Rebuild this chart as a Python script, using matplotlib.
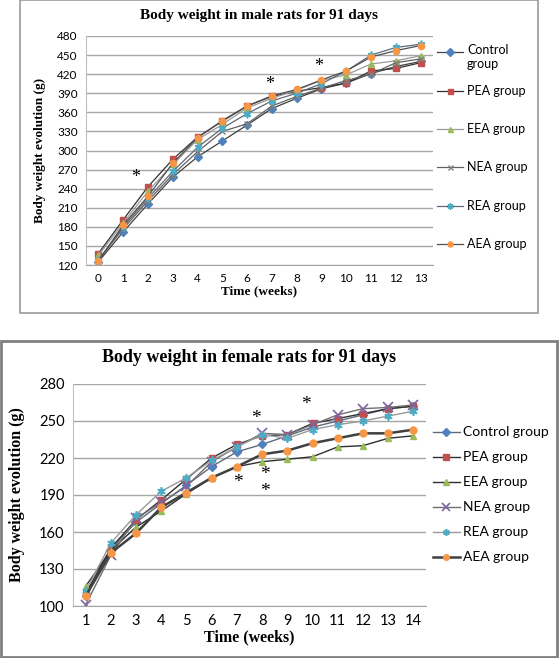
import numpy as np
import matplotlib
matplotlib.use("Agg")
from matplotlib import pyplot as plt
from matplotlib.patches import Rectangle
from matplotlib.lines import Line2D

# Male rats (weeks 0..13)
male_weeks = list(range(0, 14))
male_control = [125, 172, 216, 258, 290, 315, 340, 366, 382, 397, 406, 421, 432, 440]
male_pea = [138, 191, 243, 286, 321, 346, 370, 385, 393, 399, 406, 425, 429, 438]
male_eea = [135, 186, 236, 278, 317, 341, 367, 382, 395, 410, 419, 436, 441, 449]
male_nea = [128, 177, 221, 262, 298, 330, 342, 370, 385, 398, 410, 420, 438, 444]
male_rea = [128, 180, 225, 267, 305, 335, 358, 378, 390, 405, 425, 450, 462, 467]
male_aea = [126, 183, 228, 280, 320, 347, 370, 386, 396, 411, 425, 447, 457, 465]
male_stars_x = [1.5, 6.9, 8.9]
male_stars_y = [257, 404, 432]

# Female rats (weeks 1..14)
female_weeks = list(range(1, 15))
female_control = [108, 146, 168, 183, 198, 213, 225, 231, 238, 245, 250, 255, 260, 262]
female_pea = [110, 147, 170, 186, 203, 220, 231, 238, 239, 248, 252, 256, 260, 262]
female_eea = [116, 145, 164, 177, 191, 204, 213, 217, 219, 221, 229, 230, 236, 238]
female_nea = [101, 141, 171, 184, 197, 217, 229, 240, 239, 247, 255, 260, 261, 263]
female_rea = [112, 151, 174, 193, 204, 218, 229, 239, 236, 243, 247, 250, 254, 258]
female_aea = [108, 143, 159, 180, 192, 204, 213, 223, 226, 232, 236, 240, 240, 243]
female_stars_x = [7.75, 9.72, 7.05, 8.1, 8.1]
female_stars_y = [252, 263, 200, 207, 193]

labels = ["Control group", "PEA group", "EEA group", "NEA group", "REA group", "AEA group"]

blue = "#4F81BD"
red = "#C0504D"
green = "#9BBB59"
purple = "#8064A2"
cyan = "#4BACC6"
orange = "#F79646"
star = (6, 2, 0)

serif = "Liberation Serif"
sans = "Lato"

# line / marker styles per group
male_styles = [
    dict(color="#404040", lw=0.9, marker="D", ms=4.5, mfc=blue, mec=blue),
    dict(color="#303030", lw=0.9, marker="s", ms=4.5, mfc=red, mec=red),
    dict(color="#9a9a9a", lw=0.9, marker="^", ms=4.5, mfc=green, mec=green),
    dict(color="#606060", lw=0.9, marker="x", ms=4.5, mec="#7f7f7f"),
    dict(color="#606878", lw=0.9, marker=star, ms=5.5, mec=cyan, mew=1.2),
    dict(color="#505050", lw=0.9, marker="o", ms=4.5, mfc=orange, mec=orange),
]
female_styles = [
    dict(color="#5f6b7a", lw=1, marker="D", ms=4.5, mfc=blue, mec=blue),
    dict(color="#303030", lw=1, marker="s", ms=5, mfc=red, mec=red),
    dict(color="#303030", lw=1, marker="^", ms=5, mfc=green, mec=green),
    dict(color="#6f6f6f", lw=1, marker="x", ms=7, mec=purple, mew=1.2),
    dict(color="#9a9a9a", lw=1, marker=star, ms=6, mec=cyan, mew=1.2),
    dict(color="#404040", lw=1.8, marker="o", ms=5, mfc=orange, mec=orange),
]

fig = plt.figure(figsize=(5.59, 6.58), dpi=100)

# panel frames
fig.patches.append(Rectangle((20 / 559, 1 - 313 / 658), 518 / 559, 313 / 658,
                             transform=fig.transFigure, fill=False,
                             edgecolor="#9a9a9a", linewidth=1.2))
fig.patches.append(Rectangle((1 / 559, 1 / 658), 556 / 559, 316 / 658,
                             transform=fig.transFigure, fill=False,
                             edgecolor="#808080", linewidth=2))


def style_axes(ax, ymin, ymax, xmin, xmax, ticksize):
    ax.set_ylim(ymin, ymax)
    ax.set_xlim(xmin, xmax)
    ax.set_yticks(np.arange(ymin, ymax + 1, 30))
    ax.yaxis.grid(True, color="#a6a6a6", linewidth=1)
    ax.set_axisbelow(True)
    for s in ["top", "right"]:
        ax.spines[s].set_visible(False)
    ax.spines["left"].set_color("#bfbfbf")
    ax.spines["bottom"].set_color("#a6a6a6")
    ax.tick_params(length=0, labelsize=ticksize, pad=6)


def side_legend(ax, styles, texts, x0, x1, xt, y0, step, size):
    # Excel-like legend, drawn in axes fraction
    for i, (st, txt) in enumerate(zip(styles, texts)):
        y = y0 - i * step
        ax.add_line(Line2D([x0, x1], [y, y], transform=ax.transAxes, clip_on=False,
                           color=st["color"], lw=st["lw"]))
        mk = {k: v for k, v in st.items() if k not in ("color", "lw")}
        mk["ms"] = mk["ms"] * 0.8
        ax.add_line(Line2D([(x0 + x1) / 2], [y], transform=ax.transAxes, clip_on=False,
                           ls="none", color=st["color"], **mk))
        if "\n" in txt:
            ax.text(xt, y + 0.034, txt, transform=ax.transAxes, va="top", ha="left",
                    family=sans, fontsize=size, linespacing=1.15)
        else:
            ax.text(xt, y, txt, transform=ax.transAxes, va="center", ha="left",
                    family=sans, fontsize=size)


# ---- male chart ----
ax1 = fig.add_axes([86 / 559, 1 - 265 / 658, 347 / 559, 229 / 658])
for vals, st in zip([male_control, male_pea, male_eea, male_nea, male_rea, male_aea], male_styles):
    ax1.plot(male_weeks, vals, **st)
for x, y in zip(male_stars_x, male_stars_y):
    ax1.text(x, y, "*", fontsize=13, family=serif, ha="center", va="center")
style_axes(ax1, 120, 480, -0.5, 13.5, 8.5)
ax1.set_xticks(male_weeks)
for lab in ax1.get_xticklabels() + ax1.get_yticklabels():
    lab.set_fontfamily(sans)
ax1.set_title("Body weight in male rats for 91 days", family=serif, fontweight="bold",
              fontsize=11, pad=12)
ax1.set_xlabel("Time (weeks)", family=serif, fontweight="bold", fontsize=9.5, labelpad=1)
ax1.set_ylabel("Body weight evolution (g)", family=serif, fontweight="bold", fontsize=9.5, labelpad=8)
side_legend(ax1, male_styles, ["Control\ngroup"] + labels[1:],
            1.0115, 1.0865, 1.098, 0.930, 0.168, 9)

# ---- female chart ----
ax2 = fig.add_axes([73 / 559, 1 - 606 / 658, 353 / 559, 222 / 658])
for vals, st in zip([female_control, female_pea, female_eea, female_nea, female_rea, female_aea],
                    female_styles):
    ax2.plot(female_weeks, vals, **st)
for x, y in zip(female_stars_x, female_stars_y):
    ax2.text(x, y, "*", fontsize=14, family=serif, ha="center", va="center")
style_axes(ax2, 100, 280, 0.5, 14.5, 10.5)
ax2.set_xticks(female_weeks)
for lab in ax2.get_xticklabels() + ax2.get_yticklabels():
    lab.set_fontfamily(sans)
ax2.set_title("Body weight in female rats for 91 days", family=serif, fontweight="bold",
              fontsize=13, pad=16)
ax2.set_xlabel("Time (weeks)", family=serif, fontweight="bold", fontsize=11.5, labelpad=1)
ax2.set_ylabel("Body weight evolution (g)", family=serif, fontweight="bold", fontsize=11.5, labelpad=10)
side_legend(ax2, female_styles, labels, 1.0198, 1.0963, 1.105, 0.784, 0.1126, 10)

fig.savefig("out.png", dpi=100)
